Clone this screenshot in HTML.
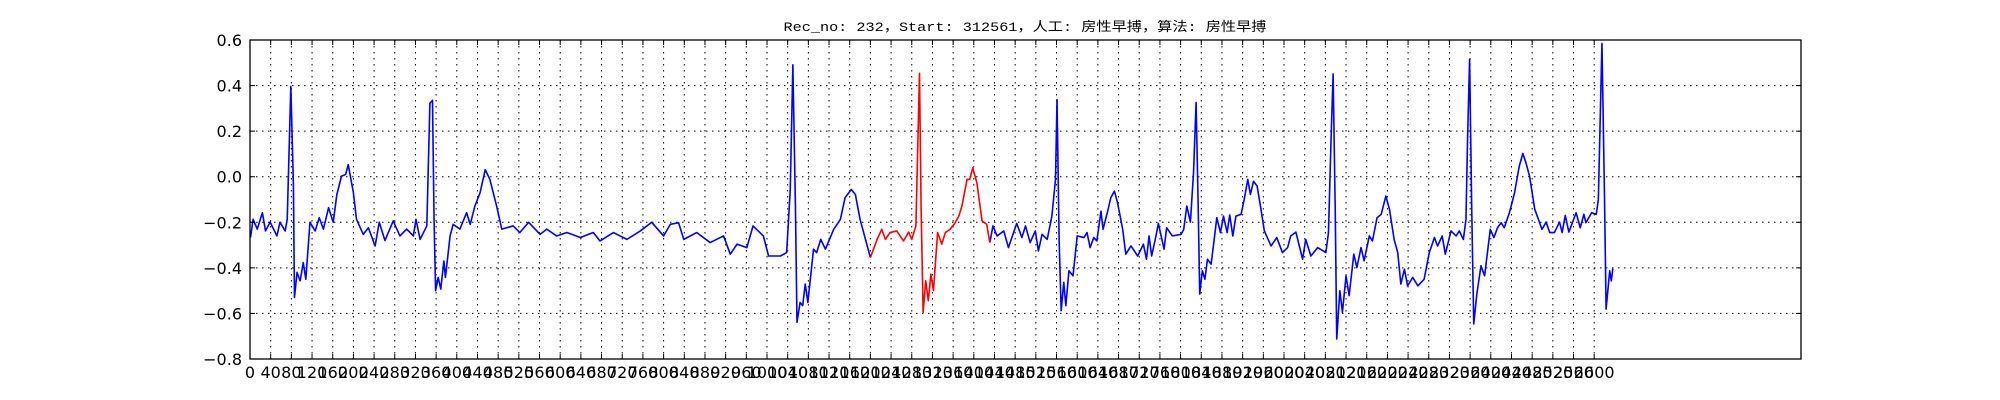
<!DOCTYPE html>
<html><head><meta charset="utf-8"><style>
html,body{margin:0;padding:0;background:#fff;}
svg{display:block;}
</style></head><body>
<svg id="chart" width="2000" height="400" xmlns="http://www.w3.org/2000/svg">
<rect x="0" y="0" width="2000" height="400" fill="#fff"/>
<text x="1025" y="31" text-anchor="middle" font-family="'Liberation Mono','Noto Sans CJK SC',monospace" font-size="13" textLength="483" lengthAdjust="spacingAndGlyphs" fill="#000">Rec_no: 232，Start: 312561，人工: 房性早搏，算法: 房性早搏</text>
<g id="grid"></g>
<g id="series"></g>
<rect x="250" y="40" width="1551" height="319" fill="none" stroke="#000" stroke-width="1.3"/>
<g id="ticks"></g>
</svg>
<script>
const samples = [1,6,14,24,30,39,52,58,68,72,79,84,86,91,97,103,108,116,126,134,142,152,161,168,177,185,190,200,206,219,229,242,250,261,277,290,303,316,321,329,342,348,353,356,359,364,369,375,378,387,393,406,419,426,435,445,455,464,477,487,509,522,539,561,574,593,613,639,664,677,703,729,755,777,800,813,829,839,864,890,916,929,942,961,973,993,1003,1026,1038,1045,1050,1055,1058,1064,1069,1074,1079,1090,1096,1104,1113,1129,1142,1151,1163,1171,1180,1200,1213,1222,1229,1238,1251,1264,1274,1280,1288,1295,1298,1302,1307,1312,1317,1322,1330,1338,1345,1354,1364,1371,1377,1387,1392,1398,1406,1416,1425,1431,1437,1445,1458,1467,1483,1493,1500,1509,1519,1525,1532,1542,1551,1558,1561,1565,1569,1574,1578,1584,1592,1600,1613,1619,1625,1632,1638,1646,1650,1659,1665,1672,1678,1688,1694,1704,1717,1728,1734,1739,1744,1751,1757,1768,1773,1784,1801,1806,1812,1819,1825,1830,1834,1837,1842,1847,1852,1859,1865,1870,1877,1883,1890,1895,1901,1907,1917,1923,1930,1935,1941,1948,1955,1962,1975,1986,1997,2007,2013,2023,2036,2042,2052,2065,2081,2086,2091,2095,2099,2102,2108,2113,2120,2126,2135,2141,2149,2155,2165,2171,2180,2188,2197,2204,2213,2220,2226,2233,2239,2249,2259,2271,2281,2291,2297,2306,2312,2323,2333,2339,2347,2352,2355,2359,2363,2367,2373,2381,2388,2399,2406,2413,2420,2426,2436,2446,2455,2462,2468,2475,2485,2491,2499,2507,2514,2523,2533,2538,2544,2551,2565,2573,2580,2584,2595,2604,2608,2615,2620,2623,2630,2633,2636];
const values = [-0.267,-0.187,-0.23,-0.158,-0.238,-0.199,-0.26,-0.2,-0.238,-0.187,0.396,-0.04,-0.53,-0.42,-0.457,-0.377,-0.45,-0.2,-0.238,-0.18,-0.23,-0.136,-0.2,-0.078,0.002,0.01,0.053,-0.07,-0.187,-0.253,-0.224,-0.304,-0.2,-0.28,-0.194,-0.26,-0.23,-0.26,-0.187,-0.275,-0.216,0.323,0.335,-0.187,-0.5,-0.442,-0.493,-0.37,-0.442,-0.26,-0.209,-0.23,-0.158,-0.209,-0.129,-0.07,0.031,-0.012,-0.129,-0.23,-0.216,-0.245,-0.2,-0.253,-0.23,-0.26,-0.245,-0.267,-0.245,-0.282,-0.245,-0.275,-0.238,-0.2,-0.26,-0.209,-0.202,-0.275,-0.245,-0.289,-0.26,-0.34,-0.296,-0.311,-0.216,-0.26,-0.348,-0.348,-0.333,-0.056,0.491,-0.129,-0.639,-0.552,-0.566,-0.471,-0.552,-0.318,-0.333,-0.275,-0.318,-0.231,-0.187,-0.092,-0.056,-0.078,-0.187,-0.355,-0.275,-0.231,-0.275,-0.245,-0.238,-0.282,-0.243,-0.275,-0.216,0.454,-0.129,-0.595,-0.457,-0.544,-0.428,-0.5,-0.245,-0.296,-0.245,-0.231,-0.202,-0.173,-0.129,-0.012,-0.012,0.039,-0.027,-0.194,-0.209,-0.289,-0.216,-0.26,-0.238,-0.311,-0.205,-0.267,-0.216,-0.289,-0.238,-0.326,-0.253,-0.275,-0.173,-0.012,0.338,-0.275,-0.588,-0.464,-0.566,-0.413,-0.435,-0.26,-0.267,-0.245,-0.311,-0.267,-0.282,-0.151,-0.231,-0.151,-0.092,-0.063,-0.114,-0.231,-0.34,-0.304,-0.348,-0.296,-0.362,-0.26,-0.348,-0.275,-0.205,-0.318,-0.224,-0.26,-0.253,-0.231,-0.129,-0.199,0.017,0.326,-0.129,-0.515,-0.413,-0.45,-0.362,-0.384,-0.275,-0.18,-0.245,-0.173,-0.245,-0.168,-0.26,-0.173,-0.165,-0.1,-0.012,-0.078,-0.02,-0.041,-0.136,-0.238,-0.304,-0.267,-0.333,-0.311,-0.26,-0.243,-0.362,-0.275,-0.348,-0.311,-0.333,-0.245,0.163,0.451,-0.129,-0.712,-0.5,-0.595,-0.435,-0.522,-0.34,-0.399,-0.311,-0.369,-0.26,-0.282,-0.18,-0.165,-0.085,-0.143,-0.275,-0.333,-0.471,-0.406,-0.479,-0.442,-0.479,-0.45,-0.333,-0.267,-0.304,-0.26,-0.34,-0.238,-0.26,-0.238,-0.275,-0.187,0.163,0.515,-0.129,-0.646,-0.515,-0.391,-0.435,-0.231,-0.267,-0.224,-0.202,-0.224,-0.158,-0.07,0.046,0.102,0.061,0.002,-0.143,-0.18,-0.231,-0.199,-0.245,-0.245,-0.199,-0.245,-0.17,-0.243,-0.158,-0.224,-0.165,-0.202,-0.158,-0.165,-0.1,0.585,-0.1,-0.581,-0.413,-0.457,-0.403];
const redRange = [1200, 1431];
const yTicks = [0.6,0.4,0.2,0.0,-0.2,-0.4,-0.6,-0.8];
const yTickLabels = ["0.6","0.4","0.2","0.0","\u22120.2","\u22120.4","\u22120.6","\u22120.8"];
const xTickStep = 40, xTickMax = 2600, xMax = 3000;

const L=250,R=1801,T=40,B=359;
const xs = v => L + (v/xMax)*(R-L);
const ys = v => B - (v-(-0.8))/1.4*(B-T);
const NS="http://www.w3.org/2000/svg";
function mk(tag, attrs, parent){const e=document.createElementNS(NS,tag);for(const k in attrs)e.setAttribute(k,attrs[k]);parent.appendChild(e);return e;}
const grid=document.getElementById('grid'), ticks=document.getElementById('ticks'), series=document.getElementById('series');

for(let v=0; v<=xTickMax; v+=xTickStep){
  const x=xs(v);
  if(v>0){const g=mk('line',{x1:x,x2:x,y1:T,y2:B,stroke:'#000','stroke-width':1,'stroke-dasharray':'1.5,4.5'},grid);
  
  }
  const t1=mk('line',{x1:x,x2:x,y1:B,y2:B-5,stroke:'#000','stroke-width':1},ticks);
  
  
  mk('line',{x1:x,x2:x,y1:T,y2:T+5,stroke:'#000','stroke-width':1},ticks);
  const tl=mk('text',{x:x,y:378,'text-anchor':'middle','font-family':"'DejaVu Sans',sans-serif",'font-size':16,fill:'#000'},ticks);
  tl.textContent=String(v);
  
  
}
yTicks.forEach((v,i)=>{
  const y=ys(v);
  if(i>0 && i<yTicks.length-1){const g=mk('line',{x1:L,x2:R,y1:y,y2:y,stroke:'#000','stroke-width':1,'stroke-dasharray':'1.5,4.5'},grid);
  
  }
  mk('line',{x1:L,x2:L+5,y1:y,y2:y,stroke:'#000','stroke-width':1},ticks);
  mk('line',{x1:R,x2:R-5,y1:y,y2:y,stroke:'#000','stroke-width':1},ticks);
  const tl=mk('text',{x:242,y:y+6,'text-anchor':'end','font-family':"'DejaVu Sans',sans-serif",'font-size':16,fill:'#000'},ticks);
  tl.textContent=yTickLabels[i];
  
  
});

function pts(filter){const a=[];samples.forEach((s,i)=>{if(filter(s))a.push(xs(s).toFixed(2)+','+ys(values[i]).toFixed(2));});return a.join(' ');}
const blue1=mk('polyline',{points:pts(s=>s<=redRange[0]),fill:'none',stroke:'#0000ff','stroke-width':1.6,'stroke-linejoin':'round'},series);


const blue2=mk('polyline',{points:pts(s=>s>=redRange[1]),fill:'none',stroke:'#0000ff','stroke-width':1.6,'stroke-linejoin':'round'},series);


const red=mk('polyline',{points:pts(s=>s>=redRange[0]&&s<=redRange[1]),fill:'none',stroke:'#ff0000','stroke-width':1.6,'stroke-linejoin':'round'},series);


</script>
</body></html>
